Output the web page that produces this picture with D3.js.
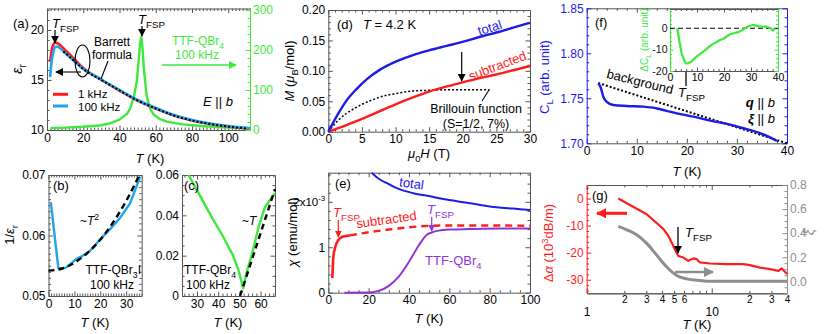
<!DOCTYPE html>
<html><head><meta charset="utf-8">
<script src="https://cdn.jsdelivr.net/npm/d3@7/dist/d3.min.js"></script>
<style>html,body{margin:0;padding:0;background:#fff}svg{font-family:"Liberation Sans",Arial,Helvetica,sans-serif;display:block}</style>
</head><body>
<svg id="fig" width="830" height="334"></svg>
<script>
// ================= DATA =================
// (a) dielectric constant of TTF-QBr3I (left axis) and TTF-QBr4 (right axis)
const aRed1k = [[1.7,16.8],[2.5,17.9],[3.5,18.55],[4.5,18.75],[6,18.65],[8,18.35],[10,18.0],[15,17.1],[20,16.2],[30,15.0],[40,13.95],[50,12.95],[60,12.15],[70,11.45],[80,10.95],[90,10.6],[100,10.35],[112,10.15]];
const aBlue100k = [[1.7,15.3],[2.5,16.8],[3.5,17.8],[5,18.35],[7,18.2],[10,17.7],[15,16.9],[20,16.1],[30,15.05],[40,14.0],[50,13.0],[60,12.2],[70,11.5],[80,11.0],[90,10.65],[100,10.4],[112,10.2]];
const aBarrett = [[9,17.85],[10,17.7],[15,16.9],[20,16.1],[30,15.0],[40,13.95],[50,12.95],[60,12.15],[70,11.45],[80,10.95],[90,10.6],[100,10.35],[110,10.15]];
const aGreenQBr4 = [[2,5],[10,6],[20,8],[30,12],[35,17],[40,26],[44,40],[46,55],[48,85],[49.5,120],[50.5,170],[51.3,215],[52,233],[52.6,210],[53.5,150],[55,85],[57,52],[59,38],[62,28],[66,21],[75,14],[85,10],[100,6],[112,4]];
const aXTicks = [0,20,40,60,80,100], aYTicks = [10,15,20], aY2Ticks = [0,100,200,300];
// (b) 1/eps of TTF-QBr3I
const bBlue = [[0.9,0.0655],[3.8,0.0546],[5,0.0546],[6.8,0.0547],[8.5,0.0553],[10.7,0.0561],[13,0.0566],[15.9,0.0574],[18,0.0584],[19.8,0.0593],[23.7,0.0610],[27.6,0.0629],[31.5,0.0653],[35.4,0.0697]];
const bFitT2 = [[0,0.0542],[5,0.0545],[10,0.0555],[15,0.0571],[20,0.0593],[25,0.0622],[30,0.0657],[35,0.0699]];
const bXTicks = [0,10,20,30], bYTicks = [0.05,0.06,0.07];
// (c) 1/eps of TTF-QBr4
const cGreen = [[26,0.06],[31,0.0505],[37,0.039],[42,0.030],[47,0.020],[49.5,0.013],[51,0.007],[51.8,0.0038],[53.5,0.012],[56,0.021],[59,0.034],[62,0.044],[66.8,0.051]];
const cFitT = [[50.3,0],[66.8,0.053]];
const cXTicks = [30,40,50,60], cYTicks = [0,0.02,0.04,0.06];
// (d) magnetization at 4.2 K
const dTotal = [[0,0],[1.5,0.030],[2.7,0.051],[4.2,0.070],[5.7,0.086],[7.7,0.102],[10.2,0.116],[12.6,0.126],[15.1,0.134],[17.6,0.141],[20.1,0.148],[22.6,0.156],[25,0.163],[27.5,0.171],[30,0.179]];
const dSub = [[0,0],[2.5,0.010],[5,0.021],[7.5,0.033],[10,0.045],[12.5,0.056],[15,0.066],[17.5,0.074],[20,0.081],[22.5,0.088],[25,0.094],[27.5,0.101],[30,0.108]];
const dBrillouin = [[0,0],[1.5,0.019],[2.7,0.030],[4,0.039],[5.2,0.046],[6.5,0.052],[7.7,0.057],[10.2,0.063],[12.6,0.067],[15,0.068],[18,0.069],[24,0.069]];
const dXTicks = [0,5,10,15,20,25,30], dYTicks = [0,0.05,0.10,0.15,0.20];
// (e) susceptibility, in units of 1e-3 emu/mol
const eTotal = [[21.5,2.64],[25.6,2.49],[30,2.39],[33.9,2.30],[42.1,2.19],[50.4,2.12],[58.7,2.05],[66.9,1.99],[75.2,1.93],[83.5,1.88],[91.7,1.85],[100,1.82]];
const eSubSolid = [[2,0.32],[2.5,0.79],[3.3,0.98],[4,1.08],[5,1.16],[6.6,1.22],[9,1.25],[10.7,1.26]];
const eSubDash = [[10.7,1.26],[20,1.33],[30,1.39],[40,1.44],[50,1.47],[60,1.48],[80,1.48],[100,1.47]];
const eQBr4 = [[8,0],[20,0.005],[25,0.04],[30,0.15],[35,0.36],[40,0.68],[45,1.05],[49,1.28],[51,1.32],[54,1.36],[60,1.39],[70,1.40],[85,1.41],[100,1.41]];
const eXTicks = [0,20,40,60,80,100], eYTicks = [0,1,2];
// (f) elastic constant C_L and inset Delta C_L
const fCL = [[2.3,1.7667],[2.8,1.762],[3.3,1.752],[4,1.746],[5.3,1.7426],[8,1.7415],[11.3,1.7407],[13.3,1.7396],[14.7,1.7378],[18,1.7333],[21.3,1.7296],[24.7,1.7252],[28,1.7215],[31.3,1.7167],[34.7,1.7111],[36.3,1.7074],[38,1.7025]];
const fBackground = [[2.3,1.767],[40,1.700]];
const fXTicks = [0,10,20,30,40], fYTicks = [1.70,1.75,1.80,1.85];
const insDeltaCL = [[2.7,0],[3.4,-5.5],[4.3,-11.7],[5.2,-14.8],[5.9,-16.4],[6.8,-16.4],[8,-15.6],[9.8,-13.3],[12.3,-10.9],[15.4,-7.8],[18.5,-5.5],[20,-4.8],[22.2,-2.8],[25.8,-1.6],[28.9,0.8],[30.8,1.6],[33.2,0.8],[35.7,0.8],[37.2,0],[38.2,-1.1],[38.8,0]];
const insXTicks = [0,10,20,30,40], insYTicks = [-20,-10,0];
// (g) ultrasonic attenuation (left) and xi (right), log T
const gAlpha = [[1.79,0],[3.02,-5.8],[4.11,-11.3],[4.5,-13.8],[4.78,-16.2],[5.09,-18.9],[5.41,-21.2],[5.93,-21.8],[6.5,-23],[7.14,-22.1],[7.59,-22.4],[8.05,-23.6],[9.7,-24],[13.1,-24.2],[17.9,-24.2],[20.2,-24.6],[24.3,-25.5],[29.3,-26.1],[34.2,-26.7],[36.3,-25.8],[40,-27.9]];
const gXi = [[1.79,0.456],[2.09,0.428],[2.51,0.386],[3.02,0.315],[3.63,0.217],[4.37,0.118],[5.25,0.048],[6.31,0.020],[8.05,0.006],[9.7,0],[40,0]];
const gXMajor = [1,10], gXMinorLabeled = [2,3,4,5,6,20,30,40], gXMinor = [7,8,9];
const gYTicks = [-30,-20,-10,0], gY2Ticks = [0,0.2,0.4,0.6,0.8];

// ================= HELPERS =================
const svg = d3.select("#fig");
const FR = "#555";
const RED="#ff1c1c", SKY="#1ea5ea", GRN="#3ee83e", BLU="#1c1ce6", PUR="#9233d6", GRY="#8e8e8e";
const defs = svg.append("defs");
function marker(id,color,size){
  defs.append("marker").attr("id",id).attr("viewBox","0 0 10 10").attr("refX",9).attr("refY",5)
    .attr("markerWidth",size).attr("markerHeight",size).attr("markerUnits","userSpaceOnUse").attr("orient","auto")
    .append("path").attr("d","M0,0L10,5L0,10z").attr("fill",color);
}
marker("mk","#000",8); marker("mr",RED,10); marker("mg",GRN,8); marker("mgr",GRY,10); marker("mp",PUR,7); marker("mr2",RED,7);
function steps(a,b,s,skip){const out=[];const n=Math.round((b-a)/s);for(let i=0;i<=n;i++){const v=+(a+i*s).toFixed(6);if(!skip||!skip.some(m=>Math.abs(m-v)<1e-9))out.push(v);}return out;}
function ax(scale, side, pos, major, minor, o={}){
  const col=o.color||FR, tcol=o.tcolor||"#000", fs=o.fs||12;
  const gen={bottom:d3.axisBottom,top:d3.axisTop,left:d3.axisLeft,right:d3.axisRight}[side];
  const tr=(side==="bottom"||side==="top")?`translate(0,${pos})`:`translate(${pos},0)`;
  const g=svg.append("g").attr("transform",tr);
  const a=gen(scale).tickValues(major||[]).tickSizeInner(-(o.len||4.5)).tickSizeOuter(0).tickPadding(o.pad||3);
  a.tickFormat(o.fmt? o.fmt : ()=>"");
  g.call(a);
  g.attr("font-family",null).attr("font-size",null);
  g.select(".domain").attr("stroke",col).attr("stroke-width",o.sw||1);
  g.selectAll(".tick line").attr("stroke",col);
  g.selectAll(".tick text").attr("fill",tcol).style("font-size",fs+"px");
  if(minor&&minor.length){
    const g2=svg.append("g").attr("transform",tr);
    g2.call(gen(scale).tickValues(minor).tickSizeInner(-(o.mlen||2.5)).tickSizeOuter(0).tickFormat(()=>""));
    g2.select(".domain").remove();
    g2.selectAll(".tick line").attr("stroke",col);
  }
  return g;
}
function line(x,y,data,o){
  return svg.append("path").datum(data)
    .attr("d", d3.line().x(d=>x(d[0])).y(d=>y(d[1])).curve(o.curve||d3.curveLinear))
    .attr("fill","none").attr("stroke",o.color).attr("stroke-width",o.w||2.4)
    .attr("stroke-dasharray",o.dash||null).attr("stroke-linejoin","round").attr("stroke-linecap",o.cap||"butt");
}
function rich(x,y,segs,o={}){
  const fs=o.size||12;
  const t=svg.append("text").attr("x",x).attr("y",y).style("font-size",fs+"px")
    .attr("fill",o.color||"#000").attr("text-anchor",o.anchor||"start");
  if(o.rotate!=null) t.attr("transform",`rotate(${o.rotate},${x},${y})`);
  if(o.italic) t.style("font-style","italic");
  let cur=0;
  segs.forEach(s=>{
    if(typeof s==="string") s={t:s};
    const shift=s.sub? fs*0.3 : s.sup? -fs*0.42 : 0;
    const sp=t.append("tspan").text(s.t).attr("dy",shift-cur);
    cur=shift;
    if(s.sub||s.sup) sp.style("font-size",(fs*(s.small||0.72))+"px");
    if(s.i) sp.style("font-style","italic");
    if(s.b) sp.style("font-weight","bold");
  });
  return t;
}
function arrow(x1,y1,x2,y2,color,w,mk){
  svg.append("line").attr("x1",x1).attr("y1",y1).attr("x2",x2).attr("y2",y2)
    .attr("stroke",color).attr("stroke-width",w).attr("marker-end",`url(#${mk})`);
}
const TK=[{t:"T",i:true}," (K)"];
const TFSP=[{t:"T",i:true},{t:"FSP",sub:true,small:0.75}];

// ================= PANEL (a) =================
const xA=d3.scaleLinear([0,112],[47,250]);
const yA=d3.scaleLinear([10,22.15],[130,8.5]);
const yA2=d3.scaleLinear([0,304],[130,8.5]);
ax(xA,"bottom",130,aXTicks,steps(0,112,2,aXTicks),{fmt:d=>d});
ax(xA,"top",8.5,aXTicks,steps(0,112,2,aXTicks));
ax(yA,"left",47,aYTicks,steps(10,22,1,aYTicks),{fmt:d=>d});
ax(yA2,"right",250,aY2Ticks,steps(0,300,20,aY2Ticks),{fmt:d=>d,color:GRN,tcolor:GRN});
line(xA,yA2,aGreenQBr4,{color:GRN,w:2.4});
line(xA,yA,aRed1k,{color:RED,w:2.6,curve:d3.curveMonotoneX});
line(xA,yA,aBlue100k,{color:SKY,w:2.6,curve:d3.curveMonotoneX});
line(xA,yA,aBarrett,{color:"#000",w:2,dash:"2,2",curve:d3.curveMonotoneX});
rich(13,28,["(a)"],{size:13});
rich(52,28,TFSP,{size:13});
arrow(55,30,55,43,"#000",1.2,"mk");
rich(138,24,TFSP,{size:13});
arrow(142,26,142,36,"#000",1.2,"mk");
rich(112,46,["Barrett"],{anchor:"middle"});
rich(112,59,["formula"],{anchor:"middle"});
svg.append("ellipse").attr("cx",82.5).attr("cy",61).attr("rx",7.5).attr("ry",16).attr("fill","none").attr("stroke","#000").attr("stroke-width",1.1);
arrow(81,72,56,72,"#000",1.1,"mk");
svg.append("line").attr("x1",108).attr("y1",61).attr("x2",101).attr("y2",79).attr("stroke","#000").attr("stroke-width",1.1);
svg.append("line").attr("x1",53).attr("y1",94.3).attr("x2",68).attr("y2",94.3).attr("stroke",RED).attr("stroke-width",3);
svg.append("line").attr("x1",53).attr("y1",106).attr("x2",68).attr("y2",106).attr("stroke",SKY).attr("stroke-width",3);
rich(78,98,["1 kHz"],{size:11.5});
rich(78,110.5,["100 kHz"],{size:11.5});
rich(203,106,[{t:"E",i:true}," || ",{t:"b",i:true}],{size:13});
rich(198,45,["TTF-QBr",{t:"4",sub:true}],{color:GRN,anchor:"middle"});
rich(197,59,["100 kHz"],{color:GRN,anchor:"middle"});
arrow(162,65,236,65,GRN,1.3,"mg");
rich(150,163,TK,{anchor:"middle",size:13});
rich(22,69,[{t:"ε",i:true},{t:"r",sub:true}],{rotate:-90,anchor:"middle",size:14});

// ================= PANEL (b) =================
const xB=d3.scaleLinear([0,36],[48.5,141.7]);
const yB=d3.scaleLinear([0.05,0.07],[296,175]);
ax(xB,"bottom",296,bXTicks,steps(0,36,1,bXTicks),{fmt:d=>d});
ax(xB,"top",175,bXTicks,steps(0,36,1,bXTicks));
ax(yB,"left",48.5,bYTicks,steps(0.05,0.07,0.001,bYTicks),{fmt:d3.format(".2f")});
ax(yB,"right",141.7,bYTicks,steps(0.05,0.07,0.001,bYTicks));
line(xB,yB,bBlue,{color:SKY,w:2.4});
line(xB,yB,bFitT2,{color:"#000",w:2.4,dash:"6,4",curve:d3.curveMonotoneX});
rich(53,190,["(b)"],{size:13});
rich(80,225,["~",{t:"T",i:true},{t:"2",sup:true}]);
rich(141,274,["TTF-QBr",{t:"3",sub:true},{t:"I"}],{anchor:"end"});
rich(112,289,["100 kHz"],{anchor:"middle"});
rich(95,327,TK,{anchor:"middle",size:13});
rich(14,235,["1/",{t:"ε",i:true},{t:"r",sub:true}],{rotate:-90,anchor:"middle",size:13});

// ================= PANEL (c) =================
const xC=d3.scaleLinear([22.9,66.8],[182,275]);
const yC=d3.scaleLinear([0,0.06],[296,175]);
ax(xC,"bottom",296,cXTicks,steps(24,66,2,cXTicks),{fmt:d=>d});
ax(xC,"top",175,cXTicks,steps(24,66,2,cXTicks));
ax(yC,"left",182,cYTicks,steps(0,0.06,0.005,cYTicks),{fmt:d=>d===0?"0":d.toFixed(2)});
ax(yC,"right",275,cYTicks,steps(0,0.06,0.005,cYTicks));
line(xC,yC,cGreen,{color:GRN,w:2.4});
line(xC,yC,cFitT,{color:"#000",w:2.4,dash:"6,4"});
rich(184,190,["(c)"],{size:13});
rich(242,225,["~",{t:"T",i:true}]);
rich(184,274,["TTF-QBr",{t:"4",sub:true}]);
rich(186,289,["100 kHz"]);
rich(228,327,TK,{anchor:"middle",size:13});

// ================= PANEL (d) =================
const xD=d3.scaleLinear([0,30],[328.3,530]);
const yD=d3.scaleLinear([0,0.2],[131.7,10]);
ax(xD,"bottom",131.7,dXTicks,steps(0,30,1,dXTicks),{fmt:d=>d});
ax(xD,"top",10,dXTicks,steps(0,30,1,dXTicks));
ax(yD,"left",328.3,dYTicks,steps(0,0.2,0.01,dYTicks),{fmt:d3.format(".2f")});
ax(yD,"right",530,dYTicks,steps(0,0.2,0.01,dYTicks));
line(xD,yD,dBrillouin,{color:"#000",w:1.5,dash:"2,2",curve:d3.curveMonotoneX});
line(xD,yD,dSub,{color:RED,w:2.4,curve:d3.curveMonotoneX});
line(xD,yD,dTotal,{color:BLU,w:2.4,curve:d3.curveMonotoneX});
rich(337,29,["(d)"],{size:13});
rich(363,29,[{t:"T",i:true}," = 4.2 K"],{size:13});
rich(491,32,["total"],{color:BLU,anchor:"middle",rotate:-17,size:13});
rich(499,70,["subtracted"],{color:RED,anchor:"middle",rotate:-21,size:13});
arrow(461.7,52,461.7,81,"#000",1.2,"mk");
rich(476,113,["Brillouin function"],{anchor:"middle",size:12.5});
rich(476,128,["(S=1/2, 7%)"],{anchor:"middle",size:12.5});
svg.append("line").attr("x1",482).attr("y1",101).attr("x2",489).attr("y2",90).attr("stroke","#000").attr("stroke-width",1.1);
rich(429,158,[{t:"μ",i:true},{t:"0",sub:true},{t:"H",i:true}," (T)"],{anchor:"middle",size:13});
rich(294,71,[{t:"M",i:true}," (",{t:"μ",i:true},{t:"B",sub:true},"/mol)"],{rotate:-90,anchor:"middle",size:13});

// ================= PANEL (e) =================
const xE=d3.scaleLinear([0,100],[328.3,530]);
const yE=d3.scaleLinear([0,2.64],[292.7,172.7]);
ax(xE,"bottom",292.7,eXTicks,steps(0,100,5,eXTicks),{fmt:d=>d});
ax(xE,"top",172.7,eXTicks,steps(0,100,5,eXTicks));
const eLeft=ax(yE,"left",328.3,eYTicks,steps(0,2.6,0.2,eYTicks),{fmt:d=>d});
eLeft.selectAll(".tick text").filter(d=>d===2).style("font-size","11.5px").text("2x10").append("tspan").attr("dy",-5).style("font-size","8px").text("-3");
ax(yE,"right",530,eYTicks,steps(0,2.6,0.2,eYTicks));
line(xE,yE,eQBr4,{color:PUR,w:2,curve:d3.curveMonotoneX});
line(xE,yE,eSubDash,{color:RED,w:2.4,dash:"7,5",curve:d3.curveMonotoneX});
line(xE,yE,eSubSolid,{color:RED,w:2.6,curve:d3.curveMonotoneX});
line(xE,yE,eTotal,{color:BLU,w:2,curve:d3.curveMonotoneX});
rich(335,188,["(e)"],{size:13});
rich(411,188,["total"],{color:BLU,anchor:"middle",rotate:8,size:13});
rich(333,217,TFSP,{color:RED,size:13});
arrow(338.3,220,338.3,237,RED,1.2,"mr2");
rich(387,224,["subtracted"],{color:RED,anchor:"middle",rotate:-8,size:13});
rich(427,214,TFSP,{color:PUR,size:13});
arrow(431.7,217,431.7,231,PUR,1.2,"mp");
rich(425,265,["TTF-QBr",{t:"4",sub:true}],{color:PUR,size:13});
rich(429,323,TK,{anchor:"middle",size:13});
rich(297,232,[{t:"χ",i:true}," (emu/mol)"],{rotate:-90,anchor:"middle",size:13});

// ================= PANEL (f) =================
const xF=d3.scaleLinear([0,40],[586.7,787]);
const yF=d3.scaleLinear([1.70,1.85],[143.3,8.3]);
ax(xF,"bottom",143.3,fXTicks,steps(0,40,2,fXTicks),{fmt:d=>d});
ax(xF,"top",8.3,fXTicks,steps(0,40,2,fXTicks));
ax(yF,"left",586.7,fYTicks,steps(1.70,1.85,0.01,fYTicks),{fmt:d3.format(".2f"),color:BLU,tcolor:BLU});
ax(yF,"right",787,fYTicks,steps(1.70,1.85,0.01,fYTicks),{color:BLU});
line(xF,yF,fBackground,{color:"#000",w:2,dash:"2,2"});
line(xF,yF,fCL,{color:BLU,w:2.4,curve:d3.curveMonotoneX});
rich(595,27,["(f)"],{size:13});
rich(639,86,["background"],{anchor:"middle",rotate:14,size:13});
rich(678,97,TFSP,{size:13});
arrow(686,86,686,64,"#000",1.3,"mk");
rich(775,107,[{t:"q",i:true,b:true}," || ",{t:"b",i:true}],{anchor:"end",size:13});
rich(775,123,[{t:"ξ",i:true,b:true}," || ",{t:"b",i:true}],{anchor:"end",size:13});
rich(687,176,TK,{anchor:"middle",size:13});
rich(549,77,["C",{t:"L",sub:true}," (arb. unit)"],{rotate:-90,anchor:"middle",color:BLU,size:13});
// inset
const xI=d3.scaleLinear([0,40],[670,778]);
const yI=d3.scaleLinear([-20,9],[71,9]);
svg.append("rect").attr("x",670).attr("y",9).attr("width",108).attr("height",62).attr("fill","#fff");
ax(xI,"bottom",71,insXTicks,steps(0,40,2,insXTicks),{fmt:d=>d,fs:10.5,len:3.5,mlen:2});
ax(xI,"top",9,insXTicks,steps(0,40,2,insXTicks),{len:3.5,mlen:2});
ax(yI,"left",670,insYTicks,steps(-20,8,2,insYTicks),{color:GRN,len:3.5,mlen:2});
ax(yI,"right",778,insYTicks,steps(-20,8,2,insYTicks),{color:GRN,len:3.5,mlen:2});
svg.append("g").selectAll("text").data(insYTicks).join("text")
  .attr("x",667.5).attr("y",d=>yI(d)).attr("dy","0.35em").attr("text-anchor","end")
  .style("font-size","10.5px").attr("fill","#111").text(d=>String(d));
svg.append("line").attr("x1",xI(0)).attr("x2",xI(40)).attr("y1",yI(0)).attr("y2",yI(0)).attr("stroke","#000").attr("stroke-width",1.2).attr("stroke-dasharray","5,3");
line(xI,yI,insDeltaCL,{color:GRN,w:2.2});
rich(648,40,["ΔC",{t:"L",sub:true}," (arb. unit)"],{rotate:-90,anchor:"middle",color:GRN,size:10});

// ================= PANEL (g) =================
const xG=d3.scaleLog([1,40],[586.7,787]);
const yG=d3.scaleLinear([-35,5],[293.3,185]);
const yG2=d3.scaleLinear([-0.1,0.8],[293.3,185]);
ax(xG,"bottom",293.3,gXMajor,gXMinor,{fmt:d=>d,fs:12,pad:14,len:5});
ax(xG,"bottom",293.3,gXMinorLabeled,null,{fmt:d=>d>=20?String(d/10):String(d),fs:10,pad:3,len:2.5});
ax(xG,"top",185,gXMajor,gXMinor.concat(gXMinorLabeled),{len:5});
ax(yG,"left",586.7,gYTicks,steps(-34,4,2,gYTicks),{fmt:d=>String(d),color:RED,tcolor:RED});
ax(yG2,"right",787,gY2Ticks,steps(-0.1,0.8,0.05,gY2Ticks),{fmt:d3.format(".1f"),color:GRY,tcolor:GRY});
line(xG,yG2,gXi,{color:GRY,w:3,curve:d3.curveMonotoneX});
line(xG,yG,gAlpha,{color:RED,w:2.2});
rich(592,200,["(g)"],{size:13});
arrow(627,213.3,597,213.3,RED,3,"mr");
rich(685,237,TFSP,{size:13});
arrow(678,227,678,253,"#000",1.3,"mk");
arrow(675,272,713,272,GRY,2.5,"mgr");
rich(697,329,TK,{anchor:"middle",size:13});
rich(553,243,["Δ",{t:"α",i:true}," (10",{t:"3",sup:true},"dB/m)"],{rotate:-90,anchor:"middle",color:RED,size:13});
rich(814,232,[{t:"ξ",i:true}],{rotate:-90,anchor:"middle",color:GRY,size:14});
</script></body></html>
